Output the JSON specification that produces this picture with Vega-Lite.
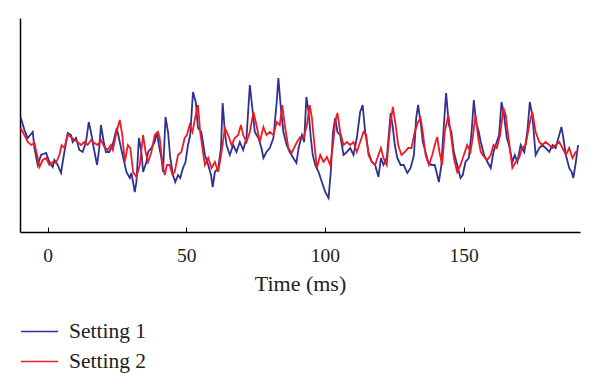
{
  "$schema": "https://vega.github.io/schema/vega-lite/v6.json",
  "width": 560,
  "height": 214,
  "autosize": {"type": "none"},
  "padding": {"left": 20, "top": 18, "right": 20, "bottom": 160},
  "background": "white",
  "config": {"view": {"stroke": null}, "font": "Liberation Serif"},
  "data": {"values": [
    {"s":"Setting 1","t":-9.8,"v":28},{"s":"Setting 1","t":-8.4,"v":15},{"s":"Setting 1","t":-7.2,"v":7},{"s":"Setting 1","t":-5.4,"v":13},{"s":"Setting 1","t":-4.8,"v":-3},{"s":"Setting 1","t":-3.6,"v":-20},{"s":"Setting 1","t":-2.4,"v":-10},{"s":"Setting 1","t":-0.6,"v":-8},{"s":"Setting 1","t":0.6,"v":-17},{"s":"Setting 1","t":1.8,"v":-22},{"s":"Setting 1","t":2.4,"v":-15},{"s":"Setting 1","t":3.6,"v":-20},{"s":"Setting 1","t":4.8,"v":-28},{"s":"Setting 1","t":5.4,"v":-17},{"s":"Setting 1","t":7.2,"v":12},{"s":"Setting 1","t":8.4,"v":10},{"s":"Setting 1","t":9.0,"v":3},{"s":"Setting 1","t":10.2,"v":7},{"s":"Setting 1","t":11.4,"v":-5},{"s":"Setting 1","t":12.6,"v":-7},{"s":"Setting 1","t":13.8,"v":3},{"s":"Setting 1","t":14.8,"v":23},{"s":"Setting 1","t":15.6,"v":13},{"s":"Setting 1","t":16.6,"v":-3},{"s":"Setting 1","t":17.8,"v":-20},{"s":"Setting 1","t":18.6,"v":-3},{"s":"Setting 1","t":19.2,"v":20},{"s":"Setting 1","t":20.2,"v":3},{"s":"Setting 1","t":21.0,"v":-7},{"s":"Setting 1","t":22.2,"v":-7},{"s":"Setting 1","t":23.4,"v":0},{"s":"Setting 1","t":24.9,"v":17},{"s":"Setting 1","t":27.0,"v":-10},{"s":"Setting 1","t":28.4,"v":-27},{"s":"Setting 1","t":29.6,"v":-33},{"s":"Setting 1","t":30.2,"v":-28},{"s":"Setting 1","t":31.4,"v":-47},{"s":"Setting 1","t":32.0,"v":-37},{"s":"Setting 1","t":32.9,"v":7},{"s":"Setting 1","t":33.8,"v":-7},{"s":"Setting 1","t":34.4,"v":-27},{"s":"Setting 1","t":35.6,"v":-17},{"s":"Setting 1","t":36.2,"v":-7},{"s":"Setting 1","t":37.4,"v":-3},{"s":"Setting 1","t":38.6,"v":3},{"s":"Setting 1","t":39.4,"v":13},{"s":"Setting 1","t":40.1,"v":0},{"s":"Setting 1","t":41.0,"v":-13},{"s":"Setting 1","t":41.6,"v":-27},{"s":"Setting 1","t":42.5,"v":28},{"s":"Setting 1","t":43.4,"v":13},{"s":"Setting 1","t":44.2,"v":-13},{"s":"Setting 1","t":45.2,"v":-30},{"s":"Setting 1","t":46.0,"v":-37},{"s":"Setting 1","t":47.0,"v":-30},{"s":"Setting 1","t":47.8,"v":-33},{"s":"Setting 1","t":48.8,"v":-23},{"s":"Setting 1","t":49.7,"v":-17},{"s":"Setting 1","t":50.6,"v":0},{"s":"Setting 1","t":51.4,"v":10},{"s":"Setting 1","t":52.4,"v":53},{"s":"Setting 1","t":53.4,"v":43},{"s":"Setting 1","t":54.2,"v":17},{"s":"Setting 1","t":55.4,"v":13},{"s":"Setting 1","t":56.7,"v":-10},{"s":"Setting 1","t":57.9,"v":-20},{"s":"Setting 1","t":58.9,"v":-30},{"s":"Setting 1","t":59.5,"v":-42},{"s":"Setting 1","t":60.3,"v":-27},{"s":"Setting 1","t":61.5,"v":-23},{"s":"Setting 1","t":62.5,"v":-3},{"s":"Setting 1","t":63.1,"v":42},{"s":"Setting 1","t":63.9,"v":13},{"s":"Setting 1","t":64.5,"v":0},{"s":"Setting 1","t":65.7,"v":-10},{"s":"Setting 1","t":66.9,"v":0},{"s":"Setting 1","t":68.1,"v":-7},{"s":"Setting 1","t":69.3,"v":3},{"s":"Setting 1","t":70.5,"v":-5},{"s":"Setting 1","t":71.7,"v":7},{"s":"Setting 1","t":72.9,"v":60},{"s":"Setting 1","t":73.8,"v":37},{"s":"Setting 1","t":74.7,"v":13},{"s":"Setting 1","t":76.0,"v":7},{"s":"Setting 1","t":77.1,"v":-3},{"s":"Setting 1","t":77.8,"v":-13},{"s":"Setting 1","t":78.9,"v":-7},{"s":"Setting 1","t":80.1,"v":-3},{"s":"Setting 1","t":81.4,"v":7},{"s":"Setting 1","t":82.6,"v":43},{"s":"Setting 1","t":83.2,"v":67},{"s":"Setting 1","t":84.0,"v":40},{"s":"Setting 1","t":85.0,"v":13},{"s":"Setting 1","t":86.2,"v":0},{"s":"Setting 1","t":87.3,"v":-7},{"s":"Setting 1","t":88.6,"v":-13},{"s":"Setting 1","t":89.7,"v":-18},{"s":"Setting 1","t":90.5,"v":-3},{"s":"Setting 1","t":91.7,"v":10},{"s":"Setting 1","t":92.5,"v":3},{"s":"Setting 1","t":93.3,"v":48},{"s":"Setting 1","t":94.1,"v":33},{"s":"Setting 1","t":94.9,"v":7},{"s":"Setting 1","t":95.6,"v":-10},{"s":"Setting 1","t":96.5,"v":-20},{"s":"Setting 1","t":97.7,"v":-27},{"s":"Setting 1","t":98.9,"v":-37},{"s":"Setting 1","t":100.1,"v":-47},{"s":"Setting 1","t":101.3,"v":-53},{"s":"Setting 1","t":102.1,"v":-27},{"s":"Setting 1","t":102.9,"v":13},{"s":"Setting 1","t":103.7,"v":27},{"s":"Setting 1","t":104.5,"v":13},{"s":"Setting 1","t":105.5,"v":10},{"s":"Setting 1","t":106.7,"v":-10},{"s":"Setting 1","t":107.9,"v":-7},{"s":"Setting 1","t":109.1,"v":-3},{"s":"Setting 1","t":110.3,"v":-10},{"s":"Setting 1","t":111.5,"v":7},{"s":"Setting 1","t":112.7,"v":33},{"s":"Setting 1","t":113.6,"v":40},{"s":"Setting 1","t":114.5,"v":13},{"s":"Setting 1","t":115.7,"v":-7},{"s":"Setting 1","t":116.9,"v":-17},{"s":"Setting 1","t":118.1,"v":-20},{"s":"Setting 1","t":119.3,"v":-32},{"s":"Setting 1","t":120.2,"v":-13},{"s":"Setting 1","t":121.1,"v":-20},{"s":"Setting 1","t":122.3,"v":-13},{"s":"Setting 1","t":122.8,"v":3},{"s":"Setting 1","t":123.7,"v":32},{"s":"Setting 1","t":124.5,"v":17},{"s":"Setting 1","t":125.2,"v":0},{"s":"Setting 1","t":126.1,"v":-13},{"s":"Setting 1","t":127.3,"v":-20},{"s":"Setting 1","t":128.4,"v":-20},{"s":"Setting 1","t":129.7,"v":-28},{"s":"Setting 1","t":130.9,"v":-23},{"s":"Setting 1","t":132.1,"v":-10},{"s":"Setting 1","t":132.9,"v":27},{"s":"Setting 1","t":133.6,"v":40},{"s":"Setting 1","t":134.5,"v":23},{"s":"Setting 1","t":135.3,"v":3},{"s":"Setting 1","t":136.3,"v":-7},{"s":"Setting 1","t":137.2,"v":-17},{"s":"Setting 1","t":138.4,"v":-20},{"s":"Setting 1","t":139.6,"v":-20},{"s":"Setting 1","t":140.5,"v":-30},{"s":"Setting 1","t":141.1,"v":-37},{"s":"Setting 1","t":142.0,"v":-20},{"s":"Setting 1","t":142.9,"v":20},{"s":"Setting 1","t":143.7,"v":52},{"s":"Setting 1","t":144.7,"v":20},{"s":"Setting 1","t":145.6,"v":13},{"s":"Setting 1","t":146.5,"v":-7},{"s":"Setting 1","t":147.7,"v":-20},{"s":"Setting 1","t":148.9,"v":-33},{"s":"Setting 1","t":149.7,"v":-30},{"s":"Setting 1","t":150.7,"v":-17},{"s":"Setting 1","t":151.9,"v":-13},{"s":"Setting 1","t":152.9,"v":13},{"s":"Setting 1","t":153.7,"v":45},{"s":"Setting 1","t":154.5,"v":23},{"s":"Setting 1","t":155.5,"v":13},{"s":"Setting 1","t":156.2,"v":3},{"s":"Setting 1","t":157.4,"v":-10},{"s":"Setting 1","t":158.6,"v":-17},{"s":"Setting 1","t":159.8,"v":-23},{"s":"Setting 1","t":160.8,"v":-7},{"s":"Setting 1","t":161.6,"v":0},{"s":"Setting 1","t":162.8,"v":10},{"s":"Setting 1","t":163.7,"v":43},{"s":"Setting 1","t":164.6,"v":30},{"s":"Setting 1","t":165.6,"v":7},{"s":"Setting 1","t":166.4,"v":0},{"s":"Setting 1","t":167.6,"v":-17},{"s":"Setting 1","t":168.5,"v":-10},{"s":"Setting 1","t":169.4,"v":-17},{"s":"Setting 1","t":170.6,"v":0},{"s":"Setting 1","t":171.9,"v":-7},{"s":"Setting 1","t":173.0,"v":13},{"s":"Setting 1","t":173.9,"v":43},{"s":"Setting 1","t":174.8,"v":30},{"s":"Setting 1","t":176.0,"v":-10},{"s":"Setting 1","t":177.3,"v":-3},{"s":"Setting 1","t":178.4,"v":0},{"s":"Setting 1","t":179.6,"v":-3},{"s":"Setting 1","t":180.9,"v":-7},{"s":"Setting 1","t":182.1,"v":0},{"s":"Setting 1","t":183.2,"v":-3},{"s":"Setting 1","t":184.5,"v":10},{"s":"Setting 1","t":185.3,"v":18},{"s":"Setting 1","t":186.0,"v":7},{"s":"Setting 1","t":186.9,"v":-10},{"s":"Setting 1","t":188.1,"v":-23},{"s":"Setting 1","t":189.0,"v":-27},{"s":"Setting 1","t":189.6,"v":-33},{"s":"Setting 1","t":190.5,"v":-17},{"s":"Setting 1","t":191.3,"v":0},
    {"s":"Setting 2","t":-9.8,"v":17},{"s":"Setting 2","t":-8.4,"v":10},{"s":"Setting 2","t":-7.2,"v":3},{"s":"Setting 2","t":-6.0,"v":0},{"s":"Setting 2","t":-4.8,"v":2},{"s":"Setting 2","t":-3.6,"v":-13},{"s":"Setting 2","t":-3.0,"v":-22},{"s":"Setting 2","t":-1.8,"v":-15},{"s":"Setting 2","t":-0.6,"v":-13},{"s":"Setting 2","t":0.6,"v":-20},{"s":"Setting 2","t":1.8,"v":-17},{"s":"Setting 2","t":3.0,"v":-18},{"s":"Setting 2","t":4.2,"v":-10},{"s":"Setting 2","t":5.0,"v":0},{"s":"Setting 2","t":6.0,"v":-3},{"s":"Setting 2","t":7.2,"v":10},{"s":"Setting 2","t":8.4,"v":8},{"s":"Setting 2","t":9.6,"v":5},{"s":"Setting 2","t":10.8,"v":3},{"s":"Setting 2","t":12.0,"v":0},{"s":"Setting 2","t":13.2,"v":3},{"s":"Setting 2","t":14.4,"v":0},{"s":"Setting 2","t":15.6,"v":5},{"s":"Setting 2","t":16.8,"v":2},{"s":"Setting 2","t":18.0,"v":0},{"s":"Setting 2","t":19.2,"v":5},{"s":"Setting 2","t":20.4,"v":-2},{"s":"Setting 2","t":21.6,"v":-5},{"s":"Setting 2","t":22.8,"v":0},{"s":"Setting 2","t":23.5,"v":-5},{"s":"Setting 2","t":24.8,"v":13},{"s":"Setting 2","t":26.0,"v":25},{"s":"Setting 2","t":26.9,"v":10},{"s":"Setting 2","t":27.8,"v":-17},{"s":"Setting 2","t":28.9,"v":0},{"s":"Setting 2","t":29.8,"v":-3},{"s":"Setting 2","t":30.8,"v":-27},{"s":"Setting 2","t":32.0,"v":-32},{"s":"Setting 2","t":33.2,"v":-20},{"s":"Setting 2","t":34.4,"v":10},{"s":"Setting 2","t":35.3,"v":-7},{"s":"Setting 2","t":36.2,"v":-17},{"s":"Setting 2","t":37.4,"v":-7},{"s":"Setting 2","t":38.6,"v":10},{"s":"Setting 2","t":39.8,"v":13},{"s":"Setting 2","t":40.4,"v":7},{"s":"Setting 2","t":41.3,"v":-17},{"s":"Setting 2","t":42.2,"v":-30},{"s":"Setting 2","t":43.0,"v":-20},{"s":"Setting 2","t":44.0,"v":-20},{"s":"Setting 2","t":45.0,"v":-30},{"s":"Setting 2","t":45.8,"v":-27},{"s":"Setting 2","t":47.0,"v":-10},{"s":"Setting 2","t":48.2,"v":-7},{"s":"Setting 2","t":49.4,"v":7},{"s":"Setting 2","t":50.2,"v":10},{"s":"Setting 2","t":51.2,"v":20},{"s":"Setting 2","t":52.2,"v":13},{"s":"Setting 2","t":53.4,"v":30},{"s":"Setting 2","t":54.2,"v":40},{"s":"Setting 2","t":55.0,"v":13},{"s":"Setting 2","t":56.0,"v":-7},{"s":"Setting 2","t":56.7,"v":-20},{"s":"Setting 2","t":57.9,"v":-13},{"s":"Setting 2","t":59.1,"v":-23},{"s":"Setting 2","t":60.3,"v":-17},{"s":"Setting 2","t":61.5,"v":-27},{"s":"Setting 2","t":62.7,"v":-7},{"s":"Setting 2","t":63.9,"v":17},{"s":"Setting 2","t":65.1,"v":10},{"s":"Setting 2","t":66.3,"v":0},{"s":"Setting 2","t":67.5,"v":7},{"s":"Setting 2","t":68.7,"v":10},{"s":"Setting 2","t":69.7,"v":20},{"s":"Setting 2","t":70.5,"v":10},{"s":"Setting 2","t":71.7,"v":3},{"s":"Setting 2","t":72.9,"v":13},{"s":"Setting 2","t":74.2,"v":33},{"s":"Setting 2","t":75.3,"v":20},{"s":"Setting 2","t":76.5,"v":3},{"s":"Setting 2","t":77.8,"v":18},{"s":"Setting 2","t":78.9,"v":10},{"s":"Setting 2","t":80.1,"v":13},{"s":"Setting 2","t":81.4,"v":10},{"s":"Setting 2","t":82.6,"v":23},{"s":"Setting 2","t":83.7,"v":20},{"s":"Setting 2","t":84.6,"v":40},{"s":"Setting 2","t":85.5,"v":20},{"s":"Setting 2","t":86.8,"v":-3},{"s":"Setting 2","t":88.0,"v":-8},{"s":"Setting 2","t":89.9,"v":3},{"s":"Setting 2","t":91.1,"v":8},{"s":"Setting 2","t":92.3,"v":7},{"s":"Setting 2","t":93.5,"v":20},{"s":"Setting 2","t":94.5,"v":40},{"s":"Setting 2","t":95.3,"v":27},{"s":"Setting 2","t":96.1,"v":3},{"s":"Setting 2","t":97.1,"v":-23},{"s":"Setting 2","t":98.3,"v":-10},{"s":"Setting 2","t":99.5,"v":-17},{"s":"Setting 2","t":100.7,"v":-12},{"s":"Setting 2","t":101.9,"v":-20},{"s":"Setting 2","t":102.9,"v":0},{"s":"Setting 2","t":103.7,"v":23},{"s":"Setting 2","t":104.5,"v":32},{"s":"Setting 2","t":105.5,"v":13},{"s":"Setting 2","t":106.7,"v":0},{"s":"Setting 2","t":107.9,"v":3},{"s":"Setting 2","t":109.1,"v":0},{"s":"Setting 2","t":110.3,"v":3},{"s":"Setting 2","t":111.5,"v":-7},{"s":"Setting 2","t":112.7,"v":3},{"s":"Setting 2","t":113.9,"v":13},{"s":"Setting 2","t":114.9,"v":10},{"s":"Setting 2","t":115.7,"v":-10},{"s":"Setting 2","t":116.9,"v":-17},{"s":"Setting 2","t":118.1,"v":-20},{"s":"Setting 2","t":119.3,"v":-10},{"s":"Setting 2","t":120.2,"v":-3},{"s":"Setting 2","t":121.1,"v":-13},{"s":"Setting 2","t":122.3,"v":-20},{"s":"Setting 2","t":122.8,"v":-3},{"s":"Setting 2","t":123.7,"v":23},{"s":"Setting 2","t":124.5,"v":38},{"s":"Setting 2","t":125.5,"v":20},{"s":"Setting 2","t":126.4,"v":0},{"s":"Setting 2","t":127.6,"v":-10},{"s":"Setting 2","t":128.8,"v":-7},{"s":"Setting 2","t":130.0,"v":-3},{"s":"Setting 2","t":131.2,"v":-3},{"s":"Setting 2","t":132.4,"v":13},{"s":"Setting 2","t":133.6,"v":23},{"s":"Setting 2","t":134.5,"v":27},{"s":"Setting 2","t":135.3,"v":13},{"s":"Setting 2","t":136.3,"v":-10},{"s":"Setting 2","t":137.5,"v":-20},{"s":"Setting 2","t":138.7,"v":-10},{"s":"Setting 2","t":139.9,"v":3},{"s":"Setting 2","t":140.5,"v":8},{"s":"Setting 2","t":141.3,"v":-7},{"s":"Setting 2","t":142.3,"v":-20},{"s":"Setting 2","t":143.2,"v":13},{"s":"Setting 2","t":144.5,"v":30},{"s":"Setting 2","t":145.3,"v":13},{"s":"Setting 2","t":146.5,"v":-13},{"s":"Setting 2","t":147.7,"v":-27},{"s":"Setting 2","t":148.9,"v":-20},{"s":"Setting 2","t":150.1,"v":-10},{"s":"Setting 2","t":151.3,"v":0},{"s":"Setting 2","t":152.5,"v":-7},{"s":"Setting 2","t":153.3,"v":7},{"s":"Setting 2","t":154.3,"v":30},{"s":"Setting 2","t":155.3,"v":7},{"s":"Setting 2","t":156.2,"v":-7},{"s":"Setting 2","t":157.4,"v":-12},{"s":"Setting 2","t":158.6,"v":-15},{"s":"Setting 2","t":159.8,"v":-10},{"s":"Setting 2","t":160.8,"v":0},{"s":"Setting 2","t":162.0,"v":-3},{"s":"Setting 2","t":163.2,"v":10},{"s":"Setting 2","t":164.4,"v":37},{"s":"Setting 2","t":165.2,"v":30},{"s":"Setting 2","t":166.4,"v":3},{"s":"Setting 2","t":167.6,"v":-23},{"s":"Setting 2","t":168.8,"v":-17},{"s":"Setting 2","t":170.0,"v":-13},{"s":"Setting 2","t":171.2,"v":-3},{"s":"Setting 2","t":172.4,"v":0},{"s":"Setting 2","t":173.7,"v":20},{"s":"Setting 2","t":174.8,"v":33},{"s":"Setting 2","t":176.0,"v":13},{"s":"Setting 2","t":177.3,"v":3},{"s":"Setting 2","t":178.4,"v":0},{"s":"Setting 2","t":179.6,"v":3},{"s":"Setting 2","t":180.9,"v":0},{"s":"Setting 2","t":182.1,"v":-3},{"s":"Setting 2","t":183.2,"v":0},{"s":"Setting 2","t":184.5,"v":3},{"s":"Setting 2","t":185.7,"v":-3},{"s":"Setting 2","t":186.9,"v":-10},{"s":"Setting 2","t":188.1,"v":-3},{"s":"Setting 2","t":189.3,"v":-13},{"s":"Setting 2","t":190.5,"v":-7},{"s":"Setting 2","t":191.3,"v":-7}
  ]},
  "mark": {"type": "line", "strokeWidth": 1.8, "interpolate": "linear"},
  "encoding": {
    "x": {
      "field": "t", "type": "quantitative",
      "scale": {"domain": [-10, 192], "nice": false, "zero": false},
      "axis": {
        "title": "Time (ms)", "values": [0, 50, 100, 150], "grid": false,
        "domainColor": "#000000", "domainWidth": 1.5,
        "tickColor": "#000000", "tickSize": -5, "tickWidth": 1,
        "labelFont": "Liberation Serif", "labelFontSize": 19.5, "labelColor": "#222222",
        "labelBaseline": "alphabetic", "labelPadding": 34,
        "titleFont": "Liberation Serif", "titleFontSize": 22, "titleFontWeight": "normal", "titleColor": "#222222",
        "titleBaseline": "alphabetic", "titleY": 58
      }
    },
    "y": {
      "field": "v", "type": "quantitative",
      "scale": {"domain": [-87, 127], "nice": false, "zero": false},
      "axis": {"title": null, "labels": false, "ticks": false, "grid": false, "domainColor": "#000000", "domainWidth": 1.5}
    },
    "color": {
      "field": "s", "type": "nominal",
      "scale": {"domain": ["Setting 1", "Setting 2"], "range": ["#2e3192", "#ed1c24"]},
      "legend": {
        "title": null, "orient": "none", "legendX": 0, "legendY": 294,
        "symbolType": "stroke", "symbolSize": 1369, "symbolStrokeWidth": 1.5,
        "labelFont": "Liberation Serif", "labelFontSize": 21.5, "labelColor": "#222222",
        "labelOffset": 10, "rowPadding": 0, "padding": 0
      }
    }
  }
}
